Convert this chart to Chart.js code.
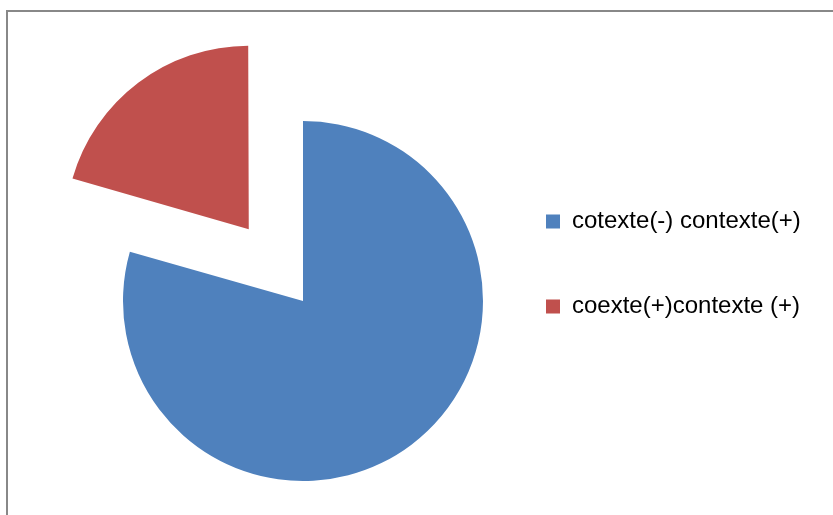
<!DOCTYPE html>
<html>
<head>
<meta charset="utf-8">
<script src="https://cdn.jsdelivr.net/npm/chart.js@4"></script>
<style>
  body { margin: 0; background: #fff; overflow: hidden; }
  #frame {
    position: absolute; left: 6px; top: 10px;
    width: 825px; height: 503px;
    border-top: 2px solid #888; border-left: 2px solid #888;
  }
  canvas { display: block; }
</style>
</head>
<body>
<div id="frame"><canvas id="myChart" width="825" height="503"></canvas></div>
<script>
// data
const labels = ['cotexte(-) contexte(+)', 'coexte(+)contexte (+)'];
const values = [27, 7];
const colors = ['#4F81BD', '#C0504D'];

// legend font, measured so the legend square lands at a fixed x
const fontFamily = "'Liberation Sans', Arial, sans-serif";
const fontSize = 24;
const rowGap = 61;      // legend row step = fontSize + rowGap
const boxSize = 14;
const boxLeft = 538;    // legend square x inside the canvas
const m = document.createElement('canvas').getContext('2d');
m.font = fontSize + 'px ' + fontFamily;
const textW = Math.max(...labels.map(l => m.measureText(l).width));
const padRight = 825 - boxLeft - boxSize - fontSize / 2 - textW - 10;
const padLeft = 2 * 295 - (boxLeft - rowGap);   // pie centre at x 295
const padTop = 209.5 - rowGap - fontSize / 2;   // first legend row centre
const padBottom = padTop + 503 - 2 * 289;       // pie centre at y 289

const config = {
  type: 'pie',
  data: {
    labels: labels,
    datasets: [{
      data: values,
      backgroundColor: colors,
      borderWidth: 0,
      offset: [0, 360],   // exploded red slice
      hoverOffset: 0,
      radius: 180,
      clip: false
    }]
  },
  options: {
    responsive: false,
    animation: false,
    events: [],
    cutout: '0%',
    layout: {
      padding: { left: padLeft, right: padRight, top: padTop, bottom: padBottom }
    },
    plugins: {
      tooltip: { enabled: false },
      legend: {
        position: 'right',
        align: 'start',
        labels: {
          boxWidth: boxSize,
          boxHeight: boxSize,
          padding: rowGap,
          color: '#000',
          font: { family: fontFamily, size: fontSize }
        }
      }
    }
  }
};

const myChart = new Chart(document.getElementById('myChart'), config);
</script>
</body>
</html>
